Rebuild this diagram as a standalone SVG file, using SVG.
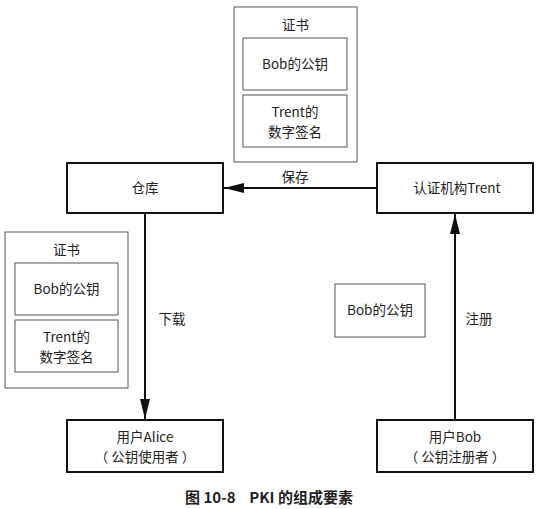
<svg xmlns="http://www.w3.org/2000/svg" width="540" height="509" viewBox="0 0 540 509">
<defs>
<marker id="ah" viewBox="0 0 20 10" refX="20" refY="5" markerWidth="20" markerHeight="10" markerUnits="userSpaceOnUse" orient="auto">
<path d="M0,0 L20,5 L0,10 Z" fill="#111"/>
</marker>
<style>
text{font-family:"Noto Sans CJK SC","Liberation Sans",sans-serif;font-size:13.5px;fill:#222;text-anchor:middle}
.box{fill:#fff;stroke:#111;stroke-width:2}
.thin{fill:#fff;stroke:#555;stroke-width:1}
.line{stroke:#111;stroke-width:2;fill:none}
.cap{font-weight:bold;font-size:15px}
</style>
</defs>
<rect width="540" height="509" fill="#fff"/>
<g id="cert-top">
<rect class="thin" x="234" y="7" width="123" height="155"/>
<text x="295.5" y="30">证书</text>
<rect class="thin" x="243" y="38" width="104" height="52"/>
<text x="295" y="69">Bob的公钥</text>
<rect class="thin" x="243" y="95" width="104" height="52"/>
<text x="295" y="117">Trent的</text>
<text x="295" y="137">数字签名</text>
</g>
<g id="cert-left">
<rect class="thin" x="5" y="232" width="123" height="156"/>
<text x="66.5" y="255">证书</text>
<rect class="thin" x="15" y="263" width="103" height="52"/>
<text x="66.5" y="294">Bob的公钥</text>
<rect class="thin" x="15" y="320" width="103" height="52"/>
<text x="66.5" y="342">Trent的</text>
<text x="66.5" y="362">数字签名</text>
</g>
<g id="repo">
<rect class="box" x="67" y="163" width="156" height="50"/>
<text x="145" y="193">仓库</text>
</g>
<g id="ca">
<rect class="box" x="377" y="163" width="156" height="50"/>
<text x="457" y="193">认证机构Trent</text>
</g>
<g id="alice">
<rect class="box" x="67" y="420" width="156" height="52"/>
<text x="145" y="442">用户Alice</text>
<text x="145" y="462">（ 公钥使用者 ）</text>
</g>
<g id="bob">
<rect class="box" x="377" y="420" width="156" height="52"/>
<text x="455" y="442">用户Bob</text>
<text x="455" y="462">（ 公钥注册者 ）</text>
</g>
<g id="bobkey">
<rect class="thin" x="335" y="284" width="90" height="53"/>
<text x="380" y="315">Bob的公钥</text>
</g>
<g id="connectors">
<line class="line" x1="377" y1="188" x2="224" y2="188" marker-end="url(#ah)"/>
<text x="295" y="182">保存</text>
<line class="line" x1="145" y1="213" x2="145" y2="419" marker-end="url(#ah)"/>
<text x="172" y="324">下载</text>
<line class="line" x1="455" y1="420" x2="455" y2="214" marker-end="url(#ah)"/>
<text x="479" y="324">注册</text>
</g>
<text class="cap" x="269" y="503" xml:space="preserve">图 10-8    PKI 的组成要素</text>
</svg>
